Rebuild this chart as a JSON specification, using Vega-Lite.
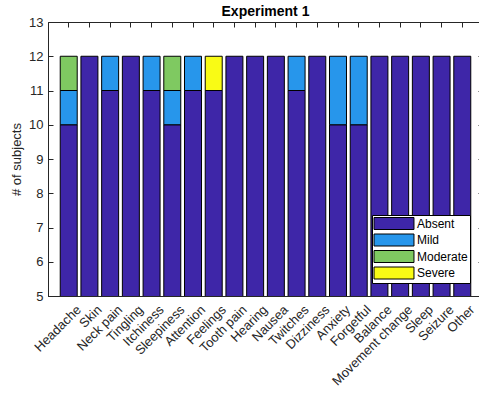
{
  "$schema": "https://vega.github.io/schema/vega-lite/v6.json",
  "width": 435,
  "height": 274,
  "autosize": {"type": "none"},
  "padding": {"left": 48, "top": 22, "right": 0, "bottom": 98},
  "title": {
    "text": "Experiment 1",
    "font": "Liberation Sans",
    "fontSize": 14,
    "fontWeight": "bold",
    "color": "black",
    "anchor": "middle",
    "offset": -3
  },
  "data": {
    "values": [
      {"symptom": "Headache", "severity": "Absent", "count": 10},
      {"symptom": "Headache", "severity": "Mild", "count": 1},
      {"symptom": "Headache", "severity": "Moderate", "count": 1},
      {"symptom": "Skin", "severity": "Absent", "count": 12},
      {"symptom": "Neck pain", "severity": "Absent", "count": 11},
      {"symptom": "Neck pain", "severity": "Mild", "count": 1},
      {"symptom": "Tingling", "severity": "Absent", "count": 12},
      {"symptom": "Itchiness", "severity": "Absent", "count": 11},
      {"symptom": "Itchiness", "severity": "Mild", "count": 1},
      {"symptom": "Sleepiness", "severity": "Absent", "count": 10},
      {"symptom": "Sleepiness", "severity": "Mild", "count": 1},
      {"symptom": "Sleepiness", "severity": "Moderate", "count": 1},
      {"symptom": "Attention", "severity": "Absent", "count": 11},
      {"symptom": "Attention", "severity": "Mild", "count": 1},
      {"symptom": "Feelings", "severity": "Absent", "count": 11},
      {"symptom": "Feelings", "severity": "Severe", "count": 1},
      {"symptom": "Tooth pain", "severity": "Absent", "count": 12},
      {"symptom": "Hearing", "severity": "Absent", "count": 12},
      {"symptom": "Nausea", "severity": "Absent", "count": 12},
      {"symptom": "Twitches", "severity": "Absent", "count": 11},
      {"symptom": "Twitches", "severity": "Mild", "count": 1},
      {"symptom": "Dizziness", "severity": "Absent", "count": 12},
      {"symptom": "Anxiety", "severity": "Absent", "count": 10},
      {"symptom": "Anxiety", "severity": "Mild", "count": 2},
      {"symptom": "Forgetful", "severity": "Absent", "count": 10},
      {"symptom": "Forgetful", "severity": "Mild", "count": 2},
      {"symptom": "Balance", "severity": "Absent", "count": 12},
      {"symptom": "Movement change", "severity": "Absent", "count": 12},
      {"symptom": "Sleep", "severity": "Absent", "count": 12},
      {"symptom": "Seizure", "severity": "Absent", "count": 12},
      {"symptom": "Other", "severity": "Absent", "count": 12}
    ]
  },
  "layer": [
    {
      "mark": {"type": "bar", "stroke": "black", "strokeWidth": 1, "clip": true},
      "encoding": {
        "x": {
          "field": "symptom",
          "type": "nominal",
          "sort": null,
          "scale": {"paddingInner": 0.18, "paddingOuter": 0.59},
          "axis": {
            "orient": "bottom",
            "title": null,
            "labelAngle": -45,
            "labelAlign": "right",
            "labelBaseline": "top",
            "labelOffset": 6,
            "tickSize": -5,
            "labelPadding": 12
          }
        },
        "y": {
          "field": "count",
          "type": "quantitative",
          "aggregate": "sum",
          "stack": "zero",
          "scale": {"domain": [5, 13], "nice": false, "zero": false},
          "axis": {
            "orient": "left",
            "title": "# of subjects",
            "values": [5, 6, 7, 8, 9, 10, 11, 12, 13],
            "tickSize": -5,
            "labelPadding": 10,
            "titlePadding": 5
          }
        },
        "color": {
          "field": "severity",
          "type": "nominal",
          "scale": {
            "domain": ["Absent", "Mild", "Moderate", "Severe"],
            "range": ["#3e26a8", "#2796eb", "#7fc961", "#f9fb15"]
          },
          "legend": {
            "title": null,
            "orient": "bottom-right",
            "offset": 13,
            "padding": 2,
            "fillColor": "white",
            "strokeColor": "black",
            "symbolType": "M-1.08,-1H5.58V1H-1.08Z",
            "symbolSize": 144,
            "symbolStrokeColor": "black",
            "symbolStrokeWidth": 1,
            "symbolOpacity": 1,
            "labelOffset": 30,
            "labelFont": "Liberation Sans",
            "labelFontSize": 12,
            "labelColor": "black",
            "rowPadding": -0.5
          }
        },
        "order": {"field": "severity", "sort": "ascending"}
      }
    },
    {
      "mark": {"type": "bar", "opacity": 0},
      "encoding": {
        "x": {
          "field": "symptom",
          "type": "nominal",
          "sort": null,
          "axis": {"orient": "top", "title": null, "labels": false, "domain": false, "tickSize": -5}
        },
        "y": {
          "field": "count",
          "type": "quantitative",
          "aggregate": "sum",
          "axis": {
            "orient": "right",
            "title": null,
            "labels": false,
            "domain": false,
            "values": [5, 6, 7, 8, 9, 10, 11, 12, 13],
            "tickSize": -5
          }
        }
      }
    }
  ],
  "resolve": {"axis": {"x": "independent", "y": "independent"}},
  "config": {
    "view": {"stroke": "#262626", "strokeWidth": 1},
    "axis": {
      "grid": false,
      "domainColor": "#262626",
      "tickColor": "#262626",
      "labelColor": "#262626",
      "labelFont": "Liberation Sans",
      "labelFontSize": 13,
      "titleFont": "Liberation Sans",
      "titleFontSize": 13,
      "titleFontWeight": "normal",
      "titleColor": "#262626"
    }
  }
}
